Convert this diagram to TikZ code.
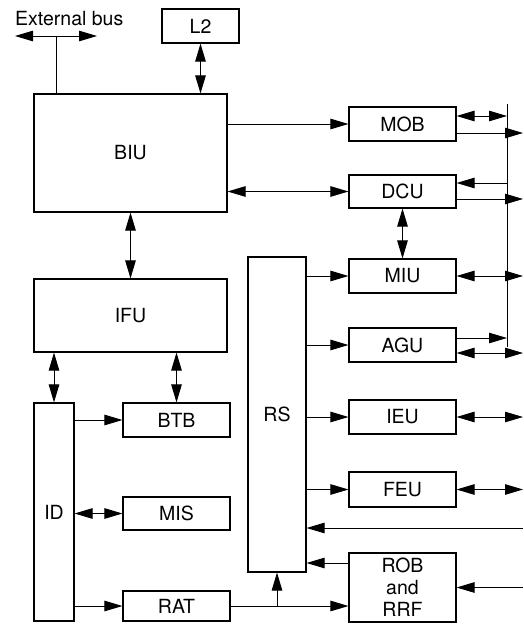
\documentclass[tikz,border=0pt]{standalone}
\usepackage{fontspec}
\setmainfont{TeX Gyre Heros}
\usetikzlibrary{arrows.meta}
\begin{document}
\begin{tikzpicture}[x=1pt,y=-1pt,
  box/.style={draw, line width=1.1pt, inner sep=0pt, font=\fontsize{19.5}{22}\selectfont},
  conn/.style={line width=0.9pt},
  tip/.style={-{Triangle[length=18pt,width=10.5pt]}},
  dtip/.style={{Triangle[length=18pt,width=10.5pt]}-{Triangle[length=18pt,width=10.5pt]}}
]
\useasboundingbox[fill=white] (0,0) rectangle (524,624);
% boxes
\node[box, minimum width=77pt, minimum height=34pt] (L2) at (200.5,26) {L2};
\node[box, minimum width=193pt, minimum height=118pt] (BIU) at (130.5,153) {BIU};
\node[box, minimum width=193pt, minimum height=73pt] (IFU) at (130.5,315.5) {IFU};
\node[box, minimum width=40pt, minimum height=218pt] (ID) at (54,512) {ID};
\node[box, minimum width=107pt, minimum height=34pt] (BTB) at (176.5,420) {BTB};
\node[box, minimum width=107pt, minimum height=33pt] (MIS) at (176.5,513.5) {MIS};
\node[box, minimum width=107pt, minimum height=30pt] (RAT) at (176.5,606) {RAT};
\node[box, minimum width=58pt, minimum height=315pt] (RS) at (277,414.5) {RS};
\node[box, minimum width=107pt, minimum height=34pt] (MOB) at (402.5,124) {MOB};
\node[box, minimum width=107pt, minimum height=33pt] (DCU) at (402.5,191.5) {DCU};
\node[box, minimum width=107pt, minimum height=34pt] (MIU) at (402.5,276) {MIU};
\node[box, minimum width=107pt, minimum height=34pt] (AGU) at (402.5,345) {AGU};
\node[box, minimum width=107pt, minimum height=34pt] (IEU) at (402.5,417) {IEU};
\node[box, minimum width=107pt, minimum height=35pt] (FEU) at (402.5,489.5) {FEU};
\node[box, minimum width=107pt, minimum height=69pt, align=center] (ROB) at (402.5,587.5) {ROB\\and\\RRF};
\node[anchor=base west, inner sep=0pt, font=\fontsize{19.5}{22}\selectfont] (EBL) at (15,25) {External bus};
% free ends
\coordinate (eb1) at (15,36);
\coordinate (eb2) at (97,36);
\coordinate (ebj) at (56,36);
\coordinate (bt) at (507,104);
\coordinate (bb) at (507,347);
\coordinate (R) at (523,0);
\coordinate (rsin) at (523,528);
% external bus
\draw[conn, dtip] (eb1) -- (eb2);
\draw[conn] (ebj) -- (ebj |- BIU.north);
% left side
\draw[conn, dtip] (L2.south) -- (L2.south |- BIU.north);
\draw[conn, dtip] (BIU.south) -- (IFU.north);
\draw[conn, dtip] (ID.north |- IFU.south) -- (ID.north);
\draw[conn, dtip] (BTB.north |- IFU.south) -- (BTB.north);
\draw[conn, tip] (BTB.west -| ID.east) -- (BTB.west);
\draw[conn, dtip] (MIS.west -| ID.east) -- (MIS.west);
\draw[conn, tip] (RAT.west -| ID.east) -- (RAT.west);
\draw[conn, tip] (RAT.east) -- (RAT.east -| ROB.west);
\draw[conn, tip] (RAT.east -| RS.south) -- (RS.south);
% BIU to memory units
\draw[conn, tip] (MOB.west -| BIU.east) -- (MOB.west);
\draw[conn, dtip] (DCU.west -| BIU.east) -- (DCU.west);
\draw[conn, dtip] (DCU.south) -- (MIU.north);
% RS to units
\draw[conn, tip] (MIU.west -| RS.east) -- (MIU.west);
\draw[conn, tip] (AGU.west -| RS.east) -- (AGU.west);
\draw[conn, tip] (IEU.west -| RS.east) -- (IEU.west);
\draw[conn, tip] (FEU.west -| RS.east) -- (FEU.west);
\draw[conn, tip] ([yshift=24.5pt]ROB.west) -- ([yshift=24.5pt]ROB.west -| RS.east);
\draw[conn, tip] (rsin) -- (rsin -| RS.east);
% right bus
\draw[conn] (bt) -- (bb);
\draw[conn, dtip] ([yshift=8pt]MOB.east) -- ([yshift=8pt]MOB.east -| bt);
\draw[conn, tip] ([yshift=-9pt]MOB.east) -- ([yshift=-9pt]MOB.east -| R);
\draw[conn, tip] ([yshift=8.5pt]DCU.east -| bt) -- ([yshift=8.5pt]DCU.east);
\draw[conn, tip] ([yshift=-7.5pt]DCU.east) -- ([yshift=-7.5pt]DCU.east -| R);
\draw[conn, dtip] (MIU.east) -- (MIU.east -| R);
\draw[conn, tip] ([yshift=7pt]AGU.east) -- ([yshift=7pt]AGU.east -| bt);
\draw[conn, dtip] ([yshift=-8pt]AGU.east) -- ([yshift=-8pt]AGU.east -| R);
\draw[conn, dtip] (IEU.east) -- (IEU.east -| R);
\draw[conn, dtip] (FEU.east) -- (FEU.east -| R);
\draw[conn, tip] (ROB.east -| R) -- (ROB.east);
\end{tikzpicture}
\end{document}
